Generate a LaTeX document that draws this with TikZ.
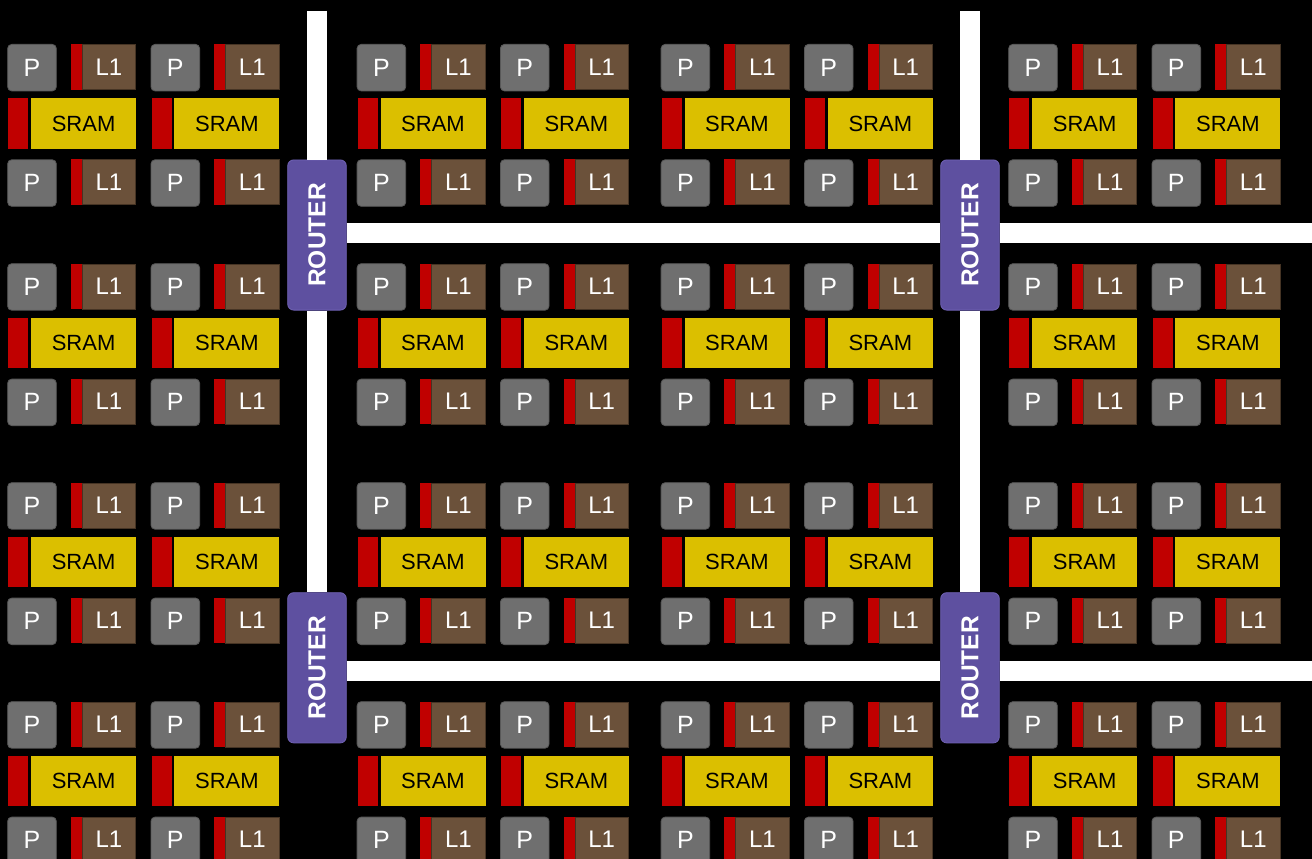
\documentclass[tikz,border=0pt]{standalone}
\usepackage{fontspec}
\usepackage{graphicx}
\setmainfont{Liberation Sans}
\definecolor{pgray}{RGB}{111,111,111}
\definecolor{pedge}{RGB}{88,88,88}
\definecolor{lbrown}{RGB}{107,81,58}
\definecolor{ledge}{RGB}{70,52,36}
\definecolor{cred}{RGB}{192,0,0}
\definecolor{syel}{RGB}{219,191,0}
\definecolor{rpurp}{RGB}{94,80,160}
\definecolor{redge}{RGB}{112,98,180}
\tikzset{
  pbox/.style={draw=pedge, fill=pgray, line width=0.8pt, rounded corners=4pt,
    minimum width=48.6pt, minimum height=46.5pt, inner sep=0pt, anchor=north west,
    text=white, font=\fontsize{25}{25}\selectfont},
  lred/.style={fill=cred, minimum width=11.2pt, minimum height=45.5pt, inner sep=0pt, anchor=north west},
  lbox/.style={draw=ledge, fill=lbrown, line width=0.6pt, minimum width=53.4pt, minimum height=44.9pt,
    inner sep=0pt, anchor=north west, text=white, font=\fontsize{24}{24}\selectfont},
  sred/.style={fill=cred, minimum width=20pt, minimum height=50.7pt, inner sep=0pt, anchor=north west},
  sbox/.style={fill=syel, minimum width=105pt, minimum height=50.7pt, inner sep=0pt, anchor=north west,
    text=black, font=\fontsize{22}{22}\selectfont},
  router/.style={draw=redge, fill=rpurp, line width=0.8pt, rounded corners=6pt,
    minimum width=58.6pt, minimum height=150.2pt, inner sep=0pt, text=white,
    font=\bfseries\fontsize{24.5}{24.5}\selectfont},
  link/.style={draw=white, line width=20pt}
}
\begin{document}
\begin{tikzpicture}[x=1pt,y=-1pt]
\fill[black] (0,0) rectangle (1312,859);
\useasboundingbox (0,0) rectangle (1312,859);
\foreach \cx [count=\ci] in {7.3,150.6,356.7,500,660.7,804,1008.3,1151.6}{
  \foreach \ry [count=\ri] in {44,263.3,482.3,701.3}{
    \node[pbox] (pt\ci-\ri) at (\cx,\ry) {P};
    \node[lred] (lrt\ci-\ri) at (\cx+63.5,\ry) {};
    \node[lbox] (lt\ci-\ri) at (\cx+74.7,\ry+0.3) {L1};
    \node[sred] (sr\ci-\ri) at (\cx+0.7,\ry+54) {};
    \node[sbox] (s\ci-\ri) at (\cx+23.6,\ry+54) {SRAM};
    \node[pbox] (pb\ci-\ri) at (\cx,\ry+115.4) {P};
    \node[lred] (lrb\ci-\ri) at (\cx+63.5,\ry+115) {};
    \node[lbox] (lb\ci-\ri) at (\cx+74.7,\ry+115.3) {L1};
  }
}
\node[router] (r1) at (317,235) {\rotatebox{90}{ROUTER}};
\node[router] (r2) at (970,235) {\rotatebox{90}{ROUTER}};
\node[router] (r3) at (317,667.8) {\rotatebox{90}{ROUTER}};
\node[router] (r4) at (970,667.8) {\rotatebox{90}{ROUTER}};
\coordinate (vt1) at (317,11);
\coordinate (vt2) at (970,11);
\coordinate (he1) at (1312,233);
\coordinate (he2) at (1312,671);
\draw[link] (vt1) -- (r1.north);
\draw[link] (r1.south) -- (r3.north);
\draw[link] (vt2) -- (r2.north);
\draw[link] (r2.south) -- (r4.north);
\draw[link] ([yshift=2pt]r1.east) -- ([yshift=2pt]r2.west);
\draw[link] ([yshift=2pt]r2.east) -- (he1);
\draw[link] ([yshift=-3.2pt]r3.east) -- ([yshift=-3.2pt]r4.west);
\draw[link] ([yshift=-3.2pt]r4.east) -- (he2);
\end{tikzpicture}
\end{document}
